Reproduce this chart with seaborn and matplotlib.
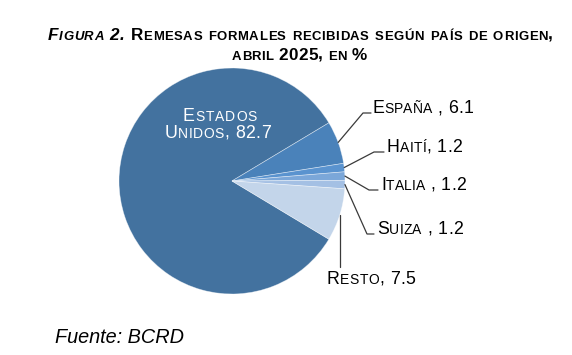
import matplotlib
matplotlib.use("Agg")
import matplotlib.pyplot as plt
import matplotlib.transforms as mtransforms
from matplotlib.font_manager import findfont, FontProperties
from matplotlib.ft2font import FT2Font
import seaborn as sns
import numpy as np

# ---------------- data ----------------
countries = ["Estados Unidos", "España", "Haití", "Italia", "Suiza", "Resto"]
shares = [82.7, 6.1, 1.2, 1.2, 1.2, 7.5]
label_sep = [", ", " , ", ", ", " , ", " , ", ", "]
title_line1 = "Figura 2. Remesas formales recibidas según país de origen,"
title_line2 = "abril 2025, en %"
source_text = "Fuente: BCRD"

colors = ["#43729f", "#4a82ba", "#5a93cf", "#7ba7d9", "#a4c0e4", "#c3d5ea"]

# ---------------- style ----------------
sns.set_theme(style="white")
FAMILY = "Liberation Sans"
plt.rcParams["font.family"] = [FAMILY, "DejaVu Sans"]

W, H, DPI = 572, 355, 100
fig = plt.figure(figsize=(W / DPI, H / DPI), dpi=DPI)
fig.patch.set_facecolor("white")

CX, CY, R = 232, 181, 113  # pie centre / radius in pixels
ax = fig.add_axes([0, 0, 1, 1])
ax.set_facecolor("white")

wedges, _ = ax.pie(shares, colors=colors, startangle=329, counterclock=False,
                   radius=1.0, normalize=True,
                   wedgeprops=dict(edgecolor=(1, 1, 1, 0.5), linewidth=0.5))
ax.set_xlim(-CX / R, (W - CX) / R)
ax.set_ylim(-(H - CY) / R, CY / R)
ax.set_aspect("auto")
ax.axis("off")


def px2d(px, py):
    return (px - CX) / R, (CY - py) / R


ident = mtransforms.IdentityTransform()
_font_cache = {}


def advance(ch, size, weight, style):
    key = (weight, style)
    if key not in _font_cache:
        path = findfont(FontProperties(family=FAMILY, weight=weight, style=style))
        _font_cache[key] = FT2Font(path)
    f = _font_cache[key]
    f.set_size(size, DPI)
    g = f.load_char(ord(ch))
    return g.linearHoriAdvance / 65536.0


def smallcaps(x, y_img, s, size, ratio=0.77, ha="left", weight="normal",
              style="normal", color="black", italic_upto=0, width=None):
    """Draw text in small caps; optional target width sets letter tracking."""
    y = H - y_img
    glyphs = []
    natural = 0.0
    for i, ch in enumerate(s):
        fs = size * ratio if ch.islower() else size
        st = "italic" if i < italic_upto else style
        c = ch.upper()
        w = advance(c, fs, weight, st)
        glyphs.append((c, fs, st, w))
        natural += w
    track = 0.0
    if width is not None and len(s) > 1:
        track = max(0.0, (width - natural) / (len(s) - 1))
    total = natural + track * (len(s) - 1)
    if ha == "center":
        cur = x - total / 2
    elif ha == "right":
        cur = x - total
    else:
        cur = x
    for c, fs, st, w in glyphs:
        if c != " ":
            fig.text(cur, y, c, fontsize=fs, transform=ident, va="baseline",
                     ha="left", fontweight=weight, fontstyle=st, color=color)
        cur += w + track


# ---------------- title ----------------
TS = 12.3
smallcaps(300.5, 40, title_line1, TS, ratio=0.77, ha="center", weight="bold",
          italic_upto=len("Figura 2."), width=505)
smallcaps(299.5, 60, title_line2, TS, ratio=0.77, ha="center", weight="bold",
          width=135)

# ---------------- labels ----------------
LS = 12.8
LR = 0.78
mid = [np.deg2rad((w.theta1 + w.theta2) / 2) for w in wedges]

# Estados Unidos (inside, white)
name0 = countries[0].split(" ")
smallcaps(220, 121, name0[0], LS, ratio=LR, ha="center", color="white",
          width=74)
smallcaps(218, 138, name0[1] + label_sep[0] + f"{shares[0]:.1f}", LS,
          ratio=LR, ha="center", color="white", width=106)

# leader configurations: (elbow px, end px, text x, text baseline, text width)
leaders = {
    1: ((363, 113), (371, 113), 372, 113, 101),
    2: ((374, 152), (384, 152), 387, 152, 75),
    3: ((369, 190), (378, 190), 381, 190, 85),
    4: ((367, 234), (374, 234), 377, 234, 86),
}
lc = "#3a3a3a"
for i, (elb, end, tx, ty, tw) in leaders.items():
    sx, sy = np.cos(mid[i]), np.sin(mid[i])
    ex, ey = px2d(*elb)
    fx, fy = px2d(*end)
    ax.plot([sx, ex, fx], [sy, ey, fy], color=lc, lw=0.9, clip_on=False)
    smallcaps(tx, ty, countries[i] + label_sep[i] + f"{shares[i]:.1f}", LS,
              ratio=LR, width=tw)

# Resto: vertical leader
sx, sy = np.cos(mid[5]), np.sin(mid[5])
_, ey = px2d(0, 267)
ax.plot([sx, sx], [sy, ey], color=lc, lw=0.9, clip_on=False)
smallcaps(327, 284, countries[5] + label_sep[5] + f"{shares[5]:.1f}", LS,
          ratio=LR, width=88)

# ---------------- source ----------------
fig.text(55, H - 343, source_text, fontsize=14.3, fontstyle="italic",
         transform=ident, va="baseline", ha="left", color="black")

fig.savefig("out.png", dpi=DPI, facecolor="white")
